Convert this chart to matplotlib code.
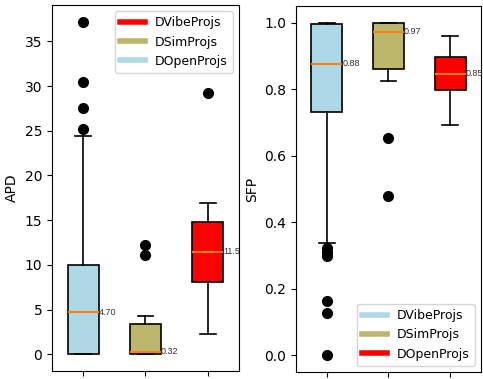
import matplotlib
matplotlib.use("Agg")
import matplotlib.pyplot as plt
from matplotlib.lines import Line2D

colors = ["lightblue", "darkkhaki", "red"]

# APD summary per group (box order: open, sim, vibe)
apd_med = [4.70, 0.32, 11.5]
apd_q1 = [0.0, 0.0, 8.05]
apd_q3 = [10.0, 3.35, 14.8]
apd_lo = [0.0, 0.0, 2.25]
apd_hi = [24.4, 4.25, 16.9]
apd_fliers = [[37.2, 30.4, 27.5, 25.2], [12.2, 11.1], [29.2]]

# SFP summary per group
sfp_med = [0.877, 0.973, 0.847]
sfp_q1 = [0.730, 0.862, 0.799]
sfp_q3 = [0.997, 1.0, 0.898]
sfp_lo = [0.339, 0.826, 0.691]
sfp_hi = [1.0, 1.0, 0.961]
sfp_fliers = [[0.324, 0.311, 0.298, 0.162, 0.126, 0.0], [0.652, 0.478], []]

legend_left = ["DVibeProjs", "DSimProjs", "DOpenProjs"]
legend_left_colors = ["red", "darkkhaki", "lightblue"]
legend_right = ["DVibeProjs", "DSimProjs", "DOpenProjs"]
legend_right_colors = ["lightblue", "darkkhaki", "red"]


def make_stats(med, q1, q3, lo, hi, fl):
    return [dict(med=m, q1=a, q3=b, whislo=l, whishi=h, fliers=f)
            for m, a, b, l, h, f in zip(med, q1, q3, lo, hi, fl)]


def draw(ax, stats, fmt, clip):
    bp = ax.bxp(stats, widths=0.5, patch_artist=True,
                flierprops=dict(marker="o", markerfacecolor="black",
                                markeredgecolor="black", markersize=7),
                medianprops=dict(color="#ff7f0e", linewidth=1.5),
                boxprops=dict(linewidth=1.2),
                whiskerprops=dict(linewidth=1.2),
                capprops=dict(linewidth=1.2))
    for patch, c in zip(bp["boxes"], colors):
        patch.set_facecolor(c)
    # median value next to each box
    for i, s in enumerate(stats):
        ax.text(i + 1.25, s["med"], fmt.format(s["med"]), fontsize=6.5,
                family=["Liberation Sans", "DejaVu Sans"],
                color="#333333", va="center", ha="left", clip_on=clip)
    ax.set_xticks([1, 2, 3])
    ax.set_xticklabels(["", "", ""])
    ax.tick_params(labelsize=10)


fig = plt.figure(figsize=(4.83, 3.79), dpi=100)
ax1 = fig.add_axes([0.1077, 0.0211, 0.387, 0.9657])
ax2 = fig.add_axes([0.6128, 0.0185, 0.383, 0.9657])

draw(ax1, make_stats(apd_med, apd_q1, apd_q3, apd_lo, apd_hi, apd_fliers),
     "{:.2f}", True)
ax1.set_ylabel("APD", fontsize=10)
ax1.legend([Line2D([], [], color=c, lw=4) for c in legend_left_colors],
           legend_left, loc="upper right", fontsize=9)

draw(ax2, make_stats(sfp_med, sfp_q1, sfp_q3, sfp_lo, sfp_hi, sfp_fliers),
     "{:.2f}", False)
ax2.set_ylabel("SFP", fontsize=10)
ax2.legend([Line2D([], [], color=c, lw=4) for c in legend_right_colors],
           legend_right, loc="lower right", fontsize=9)

fig.savefig("out.png", dpi=100)
